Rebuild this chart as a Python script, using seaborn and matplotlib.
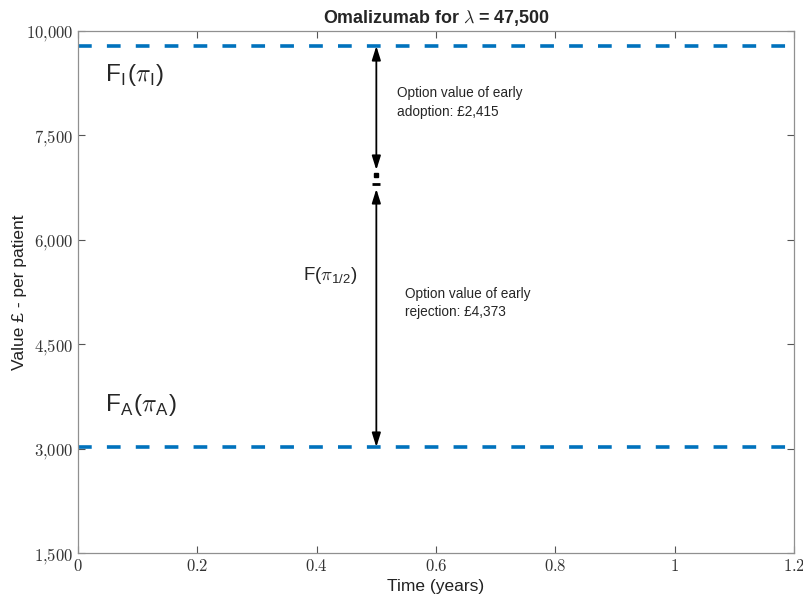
import seaborn as sns
import matplotlib.pyplot as plt
import pandas as pd
from matplotlib.ticker import FixedLocator, FixedFormatter

sns.set_theme(style="white")
plt.rcParams['font.family'] = ['Liberation Sans', 'DejaVu Sans']
plt.rcParams['mathtext.fontset'] = 'cm'

# values
time = [0.0, 1.2]
value_adopt = [8784, 8784]     # F_I(pi_I)
value_reject = [3023, 3023]    # F_A(pi_A)
arrow_x = 0.5
upper_arrow = [8784, 7003]
mid_square = 6931
mid_dash = 6802
lower_arrow = [6730, 3023]
ytick_pos = [1500, 3000, 4500, 6000, 7500, 9000]
ytick_lbl = ['1,500', '3,000', '4,500', '6,000', '7,500', '10,000']
xtick_pos = [0, 0.2, 0.4, 0.6, 0.8, 1, 1.2]
xtick_lbl = ['0', '0.2', '0.4', '0.6', '0.8', '1', '1.2']

df = pd.DataFrame({
    'time': time + time,
    'value': value_adopt + value_reject,
    'curve': ['adopt'] * 2 + ['reject'] * 2,
})

fig = plt.figure(figsize=(8.04, 6.04), dpi=100)
ax = fig.add_axes([0.097, 0.0844, 0.8906, 0.8643])

blue = '#0072BD'
sns.lineplot(data=df, x='time', y='value', units='curve', estimator=None,
             color=blue, lw=2.6, linestyle=(0, (3.8, 4.2)), ax=ax)

arr = dict(arrowstyle='<|-|>,head_length=0.7,head_width=0.22', color='black',
           lw=1.3, shrinkA=0, shrinkB=0)
ax.annotate('', xy=(arrow_x, upper_arrow[1]), xytext=(arrow_x, upper_arrow[0]), arrowprops=arr)
ax.annotate('', xy=(arrow_x, lower_arrow[1]), xytext=(arrow_x, lower_arrow[0]), arrowprops=arr)
ax.plot([arrow_x], [mid_square], marker='s', ms=3.5, color='black')
ax.plot([arrow_x], [mid_dash], marker='_', ms=6, mew=2, color='black')

ax.text(0.045, 8368, r'F$_\mathregular{I}$($\pi_\mathregular{I}$)', fontsize=17.5, va='center')
ax.text(0.045, 3626, r'F$_\mathregular{A}$($\pi_\mathregular{A}$)', fontsize=17.5, va='center')
ax.text(0.377, 5494, r'F($\pi_\mathregular{1/2}$)', fontsize=13.5, va='center')
ax.text(0.535, 7966, 'Option value of early\nadoption: £2,415', fontsize=9.8, va='center',
        linespacing=1.45)
ax.text(0.548, 5092, 'Option value of early\nrejection: £4,373', fontsize=9.8, va='center',
        linespacing=1.45)

ax.set_xlim(0, 1.2)
ax.set_ylim(1500, 9000)
ax.xaxis.set_major_locator(FixedLocator(xtick_pos))
ax.xaxis.set_major_formatter(FixedFormatter(['$' + s + '$' for s in xtick_lbl]))
ax.yaxis.set_major_locator(FixedLocator(ytick_pos))
ax.yaxis.set_major_formatter(FixedFormatter(['$' + s.replace(',', '{,}') + '$' for s in ytick_lbl]))
ax.tick_params(direction='in', length=5, width=0.8, color='#555555', labelsize=12,
               top=True, right=True, bottom=True, left=True, labelcolor='#333333')
for s in ax.spines.values():
    s.set_color('#909090')
    s.set_linewidth(0.9)

ax.set_xlabel('Time (years)', fontsize=12.5, color='#222222', labelpad=4)
ax.set_ylabel('Value £ - per patient', fontsize=12.5, color='#222222')
ax.yaxis.set_label_coords(-0.0712, 0.5)
ax.set_title(r'Omalizumab for $\lambda$ = 47,500', fontsize=12.9, fontweight='bold', pad=6)

fig.savefig('out.png', dpi=100)
